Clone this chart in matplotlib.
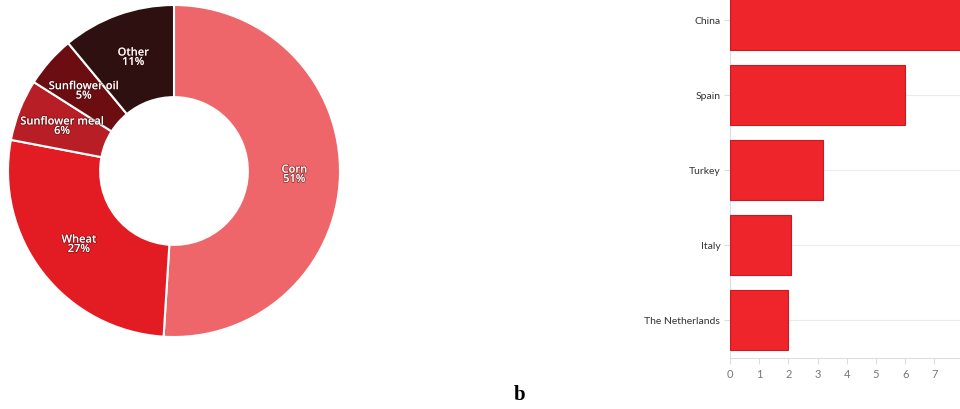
import matplotlib
matplotlib.use('Agg')
import matplotlib.pyplot as plt
import matplotlib.patheffects as pe
import numpy as np

# donut data (share of total, %)
crops = ['Corn', 'Wheat', 'Sunflower meal', 'Sunflower oil', 'Other']
shares = [51, 27, 6, 5, 11]
crop_colors = ['#ee6669', '#e31b23', '#b81e25', '#6b0d11', '#2e1011']

# bar data
countries = ['The Netherlands', 'Italy', 'Turkey', 'Spain', 'China']
values = [2.0, 2.1, 3.2, 6.0, 9.5]
xticks = [0, 1, 2, 3, 4, 5, 6, 7]

W, H = 960, 410
fig = plt.figure(figsize=(W / 100, H / 100), dpi=100)

### donut
cx, cy, r = 174, 172, 166
ax1 = fig.add_axes([(cx - r) / W, (H - cy - r) / H, 2 * r / W, 2 * r / H])
wedges, _ = ax1.pie(shares, colors=crop_colors, startangle=90, counterclock=False,
                    radius=1, wedgeprops=dict(width=0.555, edgecolor='white', linewidth=1.5))
ax1.set_xlim(-1, 1)
ax1.set_ylim(-1, 1)
ax1.set_aspect('equal')
ax1.axis('off')

start = 0
for name, s in zip(crops, shares):
    mid = np.deg2rad(90 - (start + s / 2) / 100 * 360)
    start += s
    rr = 0.725
    ax1.text(rr * np.cos(mid), rr * np.sin(mid), '{}\n{}%'.format(name, s),
             ha='center', va='center', color='white', fontsize=8, weight='semibold',
             family='Open Sans', linespacing=0.8,
             path_effects=[pe.withStroke(linewidth=1.2, foreground=(0.25, 0.05, 0.05, 0.5))])

### bars
x0, x1 = 730, 960
ybot, ytop = 359, 0
ax2 = fig.add_axes([x0 / W, (H - ybot) / H, (x1 - x0) / W, (ybot - ytop) / H])
ypos = np.arange(len(countries))
ax2.barh(ypos, values, height=0.8, color='#ee252a', edgecolor='#c81a20', linewidth=0.8, zorder=3)
ax2.set_xlim(0, 7.88)
ax2.set_ylim(-0.507, 4.28)
ax2.set_yticks(ypos)
ax2.set_yticklabels(countries, family='Lato', fontsize=7.5, color='#333333')
ax2.set_xticks(xticks)
ax2.set_xticklabels([str(t) for t in xticks], family='Lato', fontsize=8, color='#777777')
ax2.grid(axis='y', color='#ebebeb', lw=0.8, zorder=0)
for side in ['top', 'right']:
    ax2.spines[side].set_visible(False)
for side in ['left', 'bottom']:
    ax2.spines[side].set_color('#dddddd')
    ax2.spines[side].set_linewidth(0.8)
ax2.tick_params(axis='both', color='#dddddd', length=4, width=0.8, pad=3)

fig.text(520 / W, 1 - 395 / H, 'b', ha='center', va='center', fontsize=15,
         weight='bold', family='Liberation Serif')

plt.savefig('out.png', dpi=100)
plt.close(fig)
